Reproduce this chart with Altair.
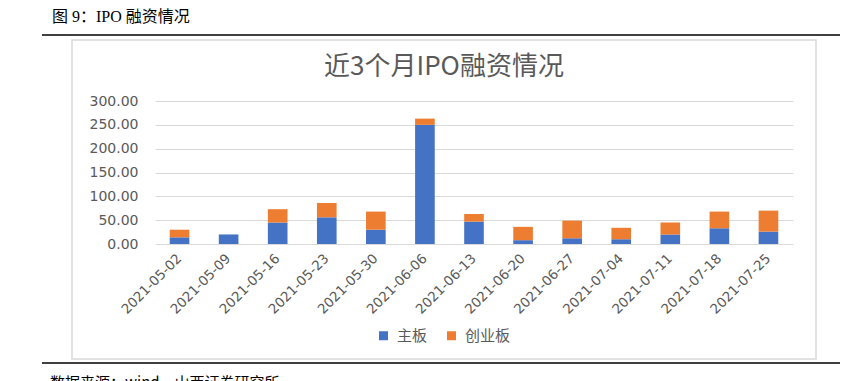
import altair as alt
import pandas as pd

dates = ["2021-05-02", "2021-05-09", "2021-05-16", "2021-05-23", "2021-05-30",
         "2021-06-06", "2021-06-13", "2021-06-20", "2021-06-27", "2021-07-04",
         "2021-07-11", "2021-07-18", "2021-07-25"]
main_board = [14, 20, 45, 56, 30, 250, 47, 8, 12, 10, 20, 33, 26]
gem_board = [16, 0, 28, 30, 38, 13, 16, 28, 37, 24, 25, 35, 44]
series = ["主板", "创业板"]
colors = ["#4472C4", "#ED7D31"]
y_ticks = [0, 50, 100, 150, 200, 250, 300]

header = "图 9：IPO 融资情况"
chart_title = "近3个月IPO融资情况"
footer = "数据来源：wind，山西证券研究所"

rows = []
for d, m, g in zip(dates, main_board, gem_board):
    rows.append({"date": d, "series": series[0], "value": m, "ord": 0})
    rows.append({"date": d, "series": series[1], "value": g, "ord": 1})
df = pd.DataFrame(rows)

W, H = 638, 143
one = pd.DataFrame({"a": [0]})
grey = "#595959"
cjk = "Noto Sans CJK SC"
serif = "Liberation Serif, Noto Sans CJK SC"
num_font = "DejaVu Sans"

bars = alt.Chart(df).mark_bar().encode(
    x=alt.X("date:N", sort=dates,
            scale=alt.Scale(paddingInner=0.6, paddingOuter=0.3),
            axis=alt.Axis(title=None, labelAngle=-45, labelAlign="right",
                          labelBaseline="middle", labelPadding=12,
                          labelFontSize=13.5, labelColor=grey, labelFont=num_font,
                          ticks=False, domain=False, grid=False)),
    y=alt.Y("value:Q", stack="zero",
            scale=alt.Scale(domain=[0, 300], nice=False),
            axis=alt.Axis(title=None, values=y_ticks, format=".2f",
                          labelFontSize=14, labelColor=grey, labelFont=num_font,
                          labelPadding=17, ticks=False, domain=False,
                          gridColor="#d9d9d9", gridWidth=1.2)),
    color=alt.Color("series:N", sort=series,
                    scale=alt.Scale(domain=series, range=colors),
                    legend=alt.Legend(title=None, orient="none", direction="horizontal",
                                      legendX=221, legendY=227,
                                      symbolType="square", symbolSize=81,
                                      symbolStrokeWidth=0,
                                      labelFont=cjk, labelFontSize=15,
                                      labelColor=grey, labelOffset=6,
                                      columnPadding=16)),
    order=alt.Order("ord:Q", sort="ascending"),
)

top_line = alt.Chart(one).mark_rule(color="#000000", strokeWidth=1.5).encode(
    x=alt.value(-113), x2=alt.value(685), y=alt.value(-66))
bottom_line = alt.Chart(one).mark_rule(color="#000000", strokeWidth=1.5).encode(
    x=alt.value(-113), x2=alt.value(685), y=alt.value(262))
box = alt.Chart(one).mark_rect(fill=None, stroke="#d9d9d9", strokeWidth=1.5).encode(
    x=alt.value(-83), x2=alt.value(661), y=alt.value(-61), y2=alt.value(258))
header_t = alt.Chart(one).mark_text(align="left", baseline="middle", fontSize=16,
                                    font=serif, color="#000000").encode(
    x=alt.value(-103), y=alt.value(-84), text=alt.value(header))
title_t = alt.Chart(one).mark_text(align="center", baseline="middle", fontSize=26,
                                   font=cjk, color=grey).encode(
    x=alt.value(289), y=alt.value(-34), text=alt.value(chart_title))
footer_t = alt.Chart(one).mark_text(align="left", baseline="top", fontSize=15,
                                    font=cjk, color="#000000").encode(
    x=alt.value(-105), y=alt.value(275), text=alt.value(footer))

chart = alt.layer(box, top_line, bottom_line, header_t, title_t, footer_t, bars).properties(
    width=W, height=H,
    autosize=alt.AutoSizeParams(type="none"),
    padding={"left": 147, "top": 93, "right": 48, "bottom": 145},
).configure_view(stroke=None)

chart.save("out.html", embed_options={"renderer": "svg", "actions": False})
